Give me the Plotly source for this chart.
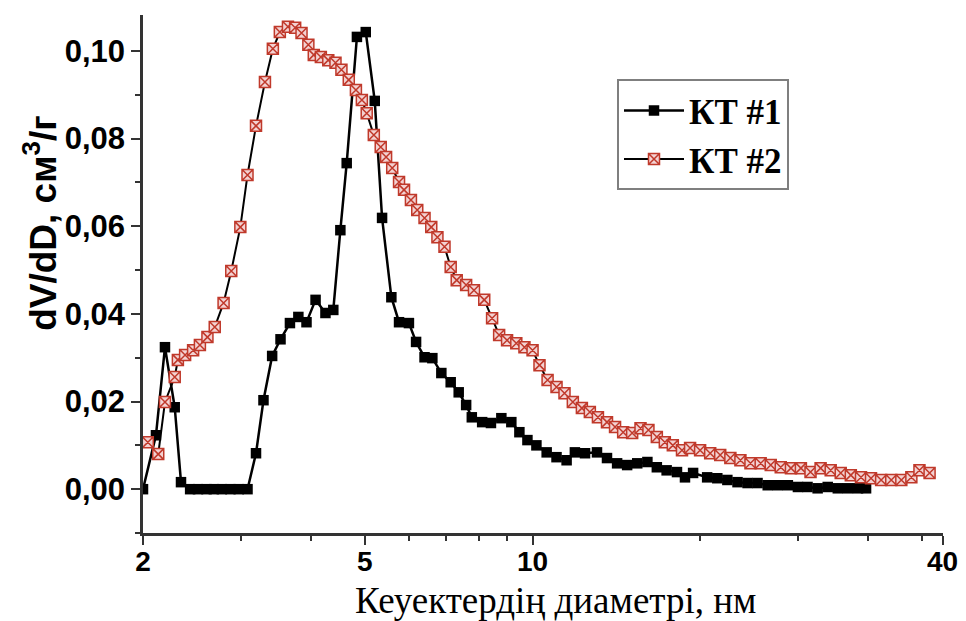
import plotly.graph_objects as go

# KT #1 (black filled squares)
kt1_x = [2.00, 2.11, 2.19, 2.28, 2.34, 2.43, 2.51, 2.60, 2.68, 2.77, 2.87, 2.97, 3.08,
         3.19, 3.29, 3.41, 3.53, 3.67, 3.80, 3.93, 4.08, 4.25, 4.39, 4.52, 4.64, 4.84,
         5.02, 5.21, 5.37, 5.58, 5.76, 6.00, 6.18, 6.40, 6.61, 6.86, 7.13, 7.37, 7.60,
         7.78, 8.12, 8.42, 8.79, 9.16, 9.47, 9.79, 10.16, 10.60, 11.04, 11.51, 11.91,
         12.42, 13.05, 13.60, 14.18, 14.78, 15.41, 16.07, 16.71, 17.40, 18.16, 18.77,
         19.41, 20.57, 21.45, 22.36, 23.32, 24.31, 25.33, 26.42, 27.54, 28.71, 29.93,
         31.14, 32.47, 33.85, 35.29, 36.79, 38.36, 39.66]
kt1_y = [0.0, 0.0123, 0.0324, 0.0187, 0.0016, 0.0, 0.0, 0.0, 0.0, 0.0, 0.0, 0.0, 0.0,
         0.0082, 0.0203, 0.0304, 0.0342, 0.0379, 0.0393, 0.0381, 0.0432, 0.0402, 0.0409,
         0.0591, 0.0744, 0.1032, 0.1043, 0.0886, 0.0619, 0.0438, 0.0381, 0.0379, 0.0336,
         0.0301, 0.0299, 0.0265, 0.0244, 0.0221, 0.0192, 0.0164, 0.0153, 0.0151, 0.0162,
         0.0153, 0.0130, 0.0112, 0.0100, 0.0084, 0.0073, 0.0066, 0.0084, 0.0082, 0.0084,
         0.0071, 0.0059, 0.0055, 0.0059, 0.0062, 0.0050, 0.0043, 0.0039, 0.0027, 0.0037,
         0.0027, 0.0025, 0.0021, 0.0016, 0.0014, 0.0014, 0.0009, 0.0009, 0.0009, 0.0005,
         0.0005, 0.0002, 0.0005, 0.0002, 0.0002, 0.0002, 0.0002]

# KT #2 (red patterned squares)
kt2_x = [2.04, 2.13, 2.19, 2.28, 2.31, 2.38, 2.46, 2.53, 2.61, 2.69, 2.79, 2.88, 2.99,
         3.08, 3.19, 3.31, 3.42, 3.52, 3.64, 3.75, 3.85, 3.96, 4.05, 4.17, 4.30, 4.43,
         4.54, 4.68, 4.82, 4.94, 5.04, 5.19, 5.34, 5.46, 5.60, 5.76, 5.88, 6.05, 6.21,
         6.40, 6.58, 6.75, 6.95, 7.13, 7.31, 7.60, 7.85, 8.19, 8.46, 8.71, 9.00, 9.35,
         9.67, 10.00, 10.29, 10.64, 11.04, 11.41, 11.81, 12.26, 12.67, 13.10, 13.60,
         14.06, 14.54, 15.09, 15.62, 16.14, 16.71, 17.27, 17.85, 18.54, 19.17, 19.98,
         20.83, 21.71, 22.64, 23.60, 24.60, 25.66, 26.75, 27.88, 29.08, 30.30, 31.53,
         32.87, 34.27, 35.72, 37.24, 38.84, 40.48, 42.21, 44.01, 45.88, 47.82, 49.45,
         51.56]
kt2_y = [0.0107, 0.0080, 0.0199, 0.0256, 0.0295, 0.0306, 0.0317, 0.0329, 0.0347, 0.0370,
         0.0425, 0.0498, 0.0598, 0.0717, 0.0829, 0.0929, 0.1005, 0.1043, 0.1055, 0.1053,
         0.1041, 0.1014, 0.0991, 0.0986, 0.0979, 0.0973, 0.0957, 0.0934, 0.0911, 0.0888,
         0.0858, 0.0808, 0.0781, 0.0758, 0.0733, 0.0701, 0.0683, 0.0660, 0.0637, 0.0619,
         0.0598, 0.0575, 0.0553, 0.0507, 0.0477, 0.0466, 0.0454, 0.0432, 0.0390, 0.0352,
         0.0340, 0.0333, 0.0324, 0.0317, 0.0283, 0.0249, 0.0233, 0.0219, 0.0199, 0.0185,
         0.0176, 0.0164, 0.0153, 0.0142, 0.0130, 0.0128, 0.0139, 0.0135, 0.0119, 0.0107,
         0.0100, 0.0089, 0.0094, 0.0089, 0.0082, 0.0078, 0.0071, 0.0066, 0.0059, 0.0059,
         0.0055, 0.0050, 0.0048, 0.0048, 0.0039, 0.0048, 0.0043, 0.0037, 0.0032, 0.0027,
         0.0025, 0.0021, 0.0021, 0.0021, 0.0027, 0.0043, 0.0037]

x_tick_vals = [2, 5, 10, 54.4]
x_tick_text = ["2", "5", "10", "40"]
x_minor_vals = [3, 4, 6, 7, 8, 9, 20, 30, 40, 50]
series_names = ["КТ #1", "КТ #2"]

fig = go.Figure()
fig.add_trace(go.Scatter(
    x=kt1_x, y=kt1_y, name=series_names[0], mode="lines+markers",
    line=dict(color="black", width=2.5),
    marker=dict(symbol="square", size=10.5, color="black"),
))
fig.add_trace(go.Scatter(
    x=kt2_x, y=kt2_y, name=series_names[1], mode="lines+markers",
    line=dict(color="black", width=2),
    marker=dict(symbol="square-x", size=11, color="#f3d2d2",
                line=dict(color="#c0392b", width=1.5)),
))

sans = "Liberation Sans, Arial, sans-serif"
serif = "Liberation Serif, Times New Roman, serif"

# the page body adds an 8px offset, so the figure is sized and margined to compensate
fig.update_layout(
    width=958, height=613,
    margin=dict(l=135, r=23, t=7, b=88),
    paper_bgcolor="white", plot_bgcolor="white",
    separators=", ",
    showlegend=True,
    legend=dict(
        x=0.5925, y=0.876, xanchor="left", yanchor="top",
        bordercolor="#7f7f7f", borderwidth=2, bgcolor="white",
        font=dict(family=serif, size=35, color="black", weight="bold"),
        tracegroupgap=0, itemwidth=60,
    ),
    xaxis=dict(
        type="log", range=[0.30103, 1.7364],
        tickmode="array", tickvals=x_tick_vals, ticktext=x_tick_text,
        ticks="outside", ticklen=9, tickwidth=2, tickcolor="#333",
        ticklabelstandoff=-7, ticklabeloverflow="allow",
        showline=True, linecolor="#333", linewidth=2.5,
        showgrid=False, zeroline=False,
        tickfont=dict(family=sans, size=28, color="black", weight="bold"),
        minor=dict(tickmode="array", tickvals=x_minor_vals, ticks="outside",
                   ticklen=5, tickwidth=2, tickcolor="#333", showgrid=False),
    ),
    yaxis=dict(
        range=[-0.0100, 0.1082],
        tick0=0, dtick=0.02, tickformat=".2f",
        ticks="outside", ticklen=9, tickwidth=2, tickcolor="#333",
        showline=True, linecolor="#333", linewidth=2.5,
        showgrid=False, zeroline=False,
        tickfont=dict(family=sans, size=31, color="black", weight="bold"),
        minor=dict(dtick=0.01, tick0=0, ticks="outside", ticklen=5,
                   tickwidth=2, tickcolor="#333", showgrid=False),
    ),
    annotations=[
        dict(text="dV/dD, см<sup>3</sup>/г", textangle=-90,
             xref="paper", yref="paper", x=-0.128, y=0.598,
             xanchor="center", yanchor="middle", showarrow=False,
             font=dict(family=sans, size=37, color="black", weight="bold")),
        dict(text="Кеуектердің диаметрі, нм",
             xref="paper", yref="paper", x=0.516, y=-0.131,
             xanchor="center", yanchor="middle", showarrow=False,
             font=dict(family=serif, size=37, color="black")),
    ],
)

fig.write_html("out.html")
